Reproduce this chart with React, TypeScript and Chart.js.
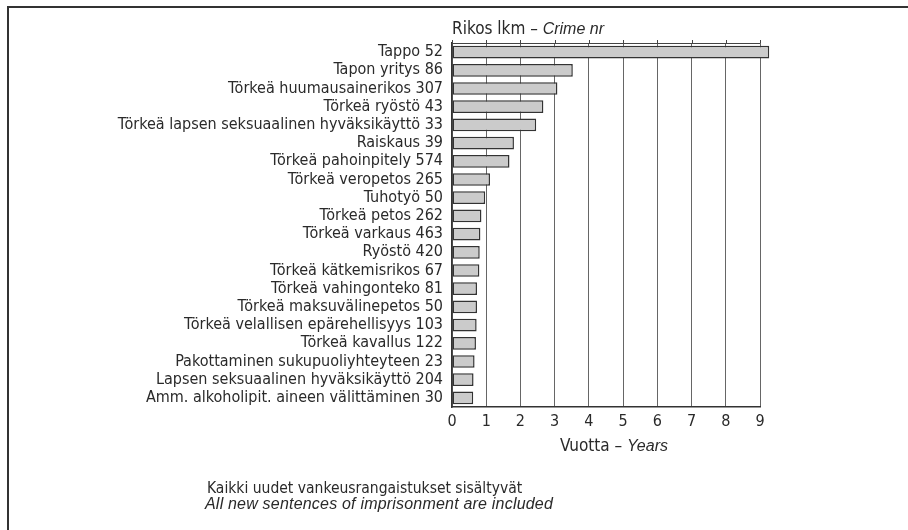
import React, { useEffect, useRef } from "react";
import { Chart, registerables } from "chart.js";

Chart.register(...registerables);

const crimeNames = [
  "Tappo",
  "Tapon yritys",
  "Törkeä huumausainerikos",
  "Törkeä ryöstö",
  "Törkeä lapsen seksuaalinen hyväksikäyttö",
  "Raiskaus",
  "Törkeä pahoinpitely",
  "Törkeä veropetos",
  "Tuhotyö",
  "Törkeä petos",
  "Törkeä varkaus",
  "Ryöstö",
  "Törkeä kätkemisrikos",
  "Törkeä vahingonteko",
  "Törkeä maksuvälinepetos",
  "Törkeä velallisen epärehellisyys",
  "Törkeä kavallus",
  "Pakottaminen sukupuoliyhteyteen",
  "Lapsen seksuaalinen hyväksikäyttö",
  "Amm. alkoholipit. aineen välittäminen",
];
const crimeCounts = [52, 86, 307, 43, 33, 39, 574, 265, 50, 262, 463, 420, 67, 81, 50, 103, 122, 23, 204, 30];
const sentenceYears = [9.27, 3.53, 3.08, 2.67, 2.46, 1.81, 1.68, 1.11, 0.97, 0.86, 0.83, 0.81, 0.8, 0.73, 0.73, 0.72, 0.7, 0.66, 0.63, 0.62];
const xTicks = [0, 1, 2, 3, 4, 5, 6, 7, 8, 9];

const labels = crimeNames.map((n, i) => `${n} ${crimeCounts[i]}`);
const condensed = "'Liberation Sans Narrow', 'DejaVu Sans Condensed', 'Roboto Condensed', sans-serif";
const regular = "'Liberation Sans', Arial, sans-serif";

export default function App() {
  const ref = useRef<HTMLCanvasElement>(null);
  useEffect(() => {
    const ctx = ref.current!.getContext("2d")!;
    const topLine = {
      id: "topLine",
      afterDatasetsDraw(chart: any) {
        const { ctx: c, chartArea, scales } = chart;
        c.save();
        c.strokeStyle = "#444";
        c.lineWidth = 1;
        c.beginPath();
        c.moveTo(scales.x.getPixelForValue(0), chartArea.top + 0.5);
        c.lineTo(scales.x.getPixelForValue(9), chartArea.top + 0.5);
        xTicks.forEach((v) => {
          const px = Math.round(scales.x.getPixelForValue(v)) + 0.5;
          c.moveTo(px, chartArea.top - 3);
          c.lineTo(px, chartArea.top);
        });
        c.stroke();
        c.restore();
      },
    };
    const chart = new Chart(ctx, {
      type: "bar",
      data: {
        labels,
        datasets: [
          {
            data: sentenceYears,
            backgroundColor: "#cbcbcb",
            borderColor: "#333",
            borderWidth: 1.5,
            borderSkipped: false,
            categoryPercentage: 1,
            barPercentage: 0.7,
            clip: false as any,
          },
        ],
      },
      options: {
        indexAxis: "y",
        animation: false,
        responsive: false,
        maintainAspectRatio: false,
        layout: { padding: { left: 0, top: 43, right: 148, bottom: 0 } },
        plugins: { legend: { display: false }, tooltip: { enabled: false } },
        scales: {
          x: {
            min: 0,
            max: 9,
            afterFit: (s: any) => {
              s.height = 123;
            },
            afterBuildTicks: (s: any) => {
              s.ticks = xTicks.map((v) => ({ value: v }));
            },
            grid: { color: "#666", lineWidth: 1, drawTicks: false },
            border: { color: "#333", width: 1.5 },
            ticks: {
              color: "#2a2a2a",
              padding: 5,
              font: { family: condensed, size: 16 },
            },
          },
          y: {
            afterFit: (s: any) => {
              s.width = 452;
            },
            grid: { display: false, drawTicks: false },
            border: { color: "#333", width: 1.5 },
            ticks: {
              color: "#2a2a2a",
              padding: 9,
              autoSkip: false,
              font: { family: condensed, size: 16 },
            },
          },
        },
      },
      plugins: [topLine],
    });
    return () => chart.destroy();
  }, []);

  const txt: React.CSSProperties = { position: "absolute", color: "#2a2a2a", whiteSpace: "nowrap", lineHeight: 1 };
  return (
    <div style={{ position: "fixed", left: 0, top: 0, width: 908, height: 530, background: "#fff", overflow: "hidden" }}>
      <div style={{ position: "absolute", left: 7, top: 6, width: 910, height: 522, borderTop: "2px solid #333", borderLeft: "2px solid #333", borderBottom: "1px solid #ccc" }} />
      <canvas ref={ref} width={908} height={530} style={{ position: "absolute", left: 0, top: 0 }} />
      <div style={{ ...txt, left: 452, top: 20, fontFamily: condensed, fontSize: 17 }}>
        Rikos lkm – <i style={{ fontFamily: regular, fontSize: 16 }}>Crime nr</i>
      </div>
      <div style={{ ...txt, left: 560, top: 437, fontFamily: condensed, fontSize: 17 }}>
        Vuotta – <i style={{ fontFamily: regular, fontSize: 16 }}>Years</i>
      </div>
      <div style={{ ...txt, left: 207, top: 481, fontFamily: condensed, fontSize: 15.5 }}>
        Kaikki uudet vankeusrangaistukset sisältyvät
      </div>
      <div style={{ ...txt, left: 205, top: 496, fontFamily: regular, fontSize: 16, fontStyle: "italic", letterSpacing: 0.2 }}>
        All new sentences of imprisonment are included
      </div>
    </div>
  );
}
